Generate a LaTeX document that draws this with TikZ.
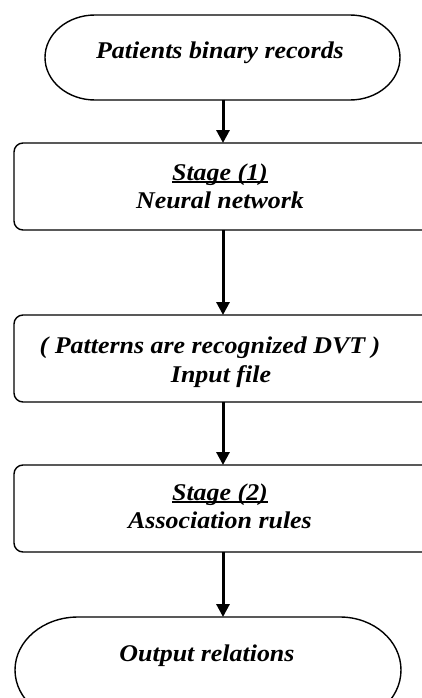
\documentclass[tikz,border=0pt]{standalone}
\usepackage{fontspec}
\setmainfont{Liberation Serif}[FakeStretch=1.08]
\usetikzlibrary{arrows.meta}
% underline set close under the baseline
\newcommand\stageul[1]{\setbox0\hbox{#1}\rlap{\rule[-2.6pt]{\wd0}{1.6pt}}\box0}
\begin{document}
\begin{tikzpicture}[x=1pt,y=-1pt,
  frame/.style={draw=black,line width=1.4pt,rounded corners=9pt},
  term/.style={draw=black,line width=1.4pt},
  txt/.style={font=\fontsize{24}{28}\selectfont\bfseries\itshape,inner sep=0pt,anchor=base},
  flow/.style={line width=3pt,-{Triangle[width=13pt,length=13pt]}}]
\useasboundingbox (0,0) rectangle (422,698);
\clip (0,0) rectangle (422,698);
\fill[white] (0,0) rectangle (422,698);
% terminators: flat top and bottom with half-ellipse ends
\draw[term] (95,15) -- (350,15)
  arc[start angle=-90,end angle=90,x radius=50,y radius=42.5]
  -- (95,100)
  arc[start angle=90,end angle=270,x radius=50,y radius=42.5] -- cycle;
\draw[term] (78,617) -- (340,617)
  arc[start angle=-90,end angle=90,x radius=61,y radius=53]
  -- (78,723)
  arc[start angle=90,end angle=270,x radius=63,y radius=53] -- cycle;
% stage boxes
\draw[frame] (14,143) rectangle (432,230);
\draw[frame] (14,315) rectangle (432,402);
\draw[frame] (14,465) rectangle (432,552);
% texts (placed on their baselines)
\node[txt] (a) at (220,59) {Patients binary records};
\node[txt] (b) at (220,180) {\stageul{Stage (1)}};
\node[txt] (b2) at (220,208) {Neural network};
\node[txt] (c) at (210,353) {( Patterns are recognized DVT )};
\node[txt] (c2) at (221,382) {Input file};
\node[txt] (d) at (220,500) {\stageul{Stage (2)}};
\node[txt] (d2) at (220,528) {Association rules};
\node[txt] (e) at (207,661) {Output relations};
% connector anchors on the box edges
\coordinate (a1) at (223,100);
\coordinate (b0) at (223,143);
\coordinate (b1) at (223,230);
\coordinate (c0) at (223,315);
\coordinate (c1) at (223,402);
\coordinate (d0) at (223,465);
\coordinate (d1) at (223,552);
\coordinate (e0) at (223,617);
\draw[flow] (a1) -- (b0);
\draw[flow] (b1) -- (c0);
\draw[flow] (c1) -- (d0);
\draw[flow] (d1) -- (e0);
\end{tikzpicture}
\end{document}
